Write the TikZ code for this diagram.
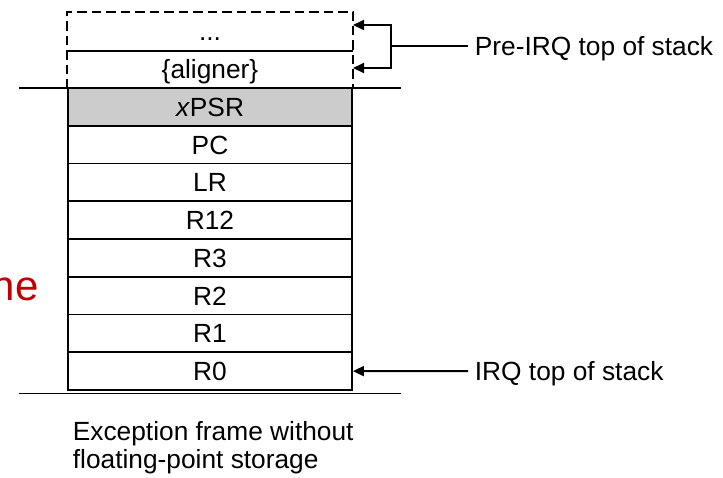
\documentclass[tikz,border=0pt]{standalone}
\usepackage{fontspec}
\setmainfont{Liberation Sans}
\usetikzlibrary{arrows.meta}
\definecolor{framegray}{RGB}{204,204,204}
\definecolor{titlered}{RGB}{192,0,0}
\begin{document}
\begin{tikzpicture}[x=1pt,y=-1pt,
  line width=1.8pt,
  txt/.style={font=\fontsize{26.3}{28}\selectfont},
  cell/.style={txt, minimum width=284pt, minimum height=37.75pt, inner sep=0pt,
    text height=18.8pt, text depth=0pt},
  solidcell/.style={cell, draw},
  ptr/.style={-{Triangle[length=11pt,width=10pt]}},
  lbl/.style={txt, inner ysep=0pt, inner xsep=6pt, text height=18.8pt, text depth=0pt},
  frameedge/.style={dash pattern=on 9.5pt off 5pt}
]
\useasboundingbox (0,0) rectangle (723,477);

% heading fragment at the left margin
\node[anchor=base west, inner sep=0pt, font=\fontsize{42}{46}\selectfont,
  text=titlered] (title) at (-9,300) {ne};

% optional rows above the frame
\node[cell] (dots)  at (210,31.5) {...};
\node[cell] (align) at (210,69) {\{aligner\}};
\draw[frameedge] (align.south west) -- (dots.north west)
  -- (dots.north east) -- (align.south east);
\draw (dots.south west) -- (dots.south east);

% stacked registers
\node[solidcell, fill=framegray] (xpsr) at (210,106.875) {\textit{x}PSR};
\node[solidcell] (pc)  at (210,144.625) {PC};
\node[solidcell] (lr)  at (210,182.375) {LR};
\node[solidcell] (r12) at (210,220.125) {R12};
\node[solidcell] (r3)  at (210,257.875) {R3};
\node[solidcell] (r2)  at (210,295.625) {R2};
\node[solidcell] (r1)  at (210,333.375) {R1};
\node[solidcell] (r0)  at (210,371.125) {R0};

% frame boundaries
\draw (19,88) -- (401,88);
\draw (19,393.5) -- (401,393.5);

% stack pointer labels
\node[lbl, anchor=west] (pre) at (468,46) {Pre-IRQ top of stack};
\node[lbl, anchor=west] (irq) at (468,371.1) {IRQ top of stack};

\coordinate (fork) at (391,46);
\coordinate (inTop) at (353,25);
\coordinate (inAlign) at (353,68);
\draw (pre.west) -- (fork);
\draw[ptr] (fork) |- (inTop);
\draw[ptr] (fork) |- (inAlign);
\draw[ptr] (irq.west) -- (r0.east);

% caption
\node[txt, anchor=north west, align=left, inner sep=0pt] (caption) at (72,421)
  {Exception frame without\\floating-point storage};
\end{tikzpicture}
\end{document}
